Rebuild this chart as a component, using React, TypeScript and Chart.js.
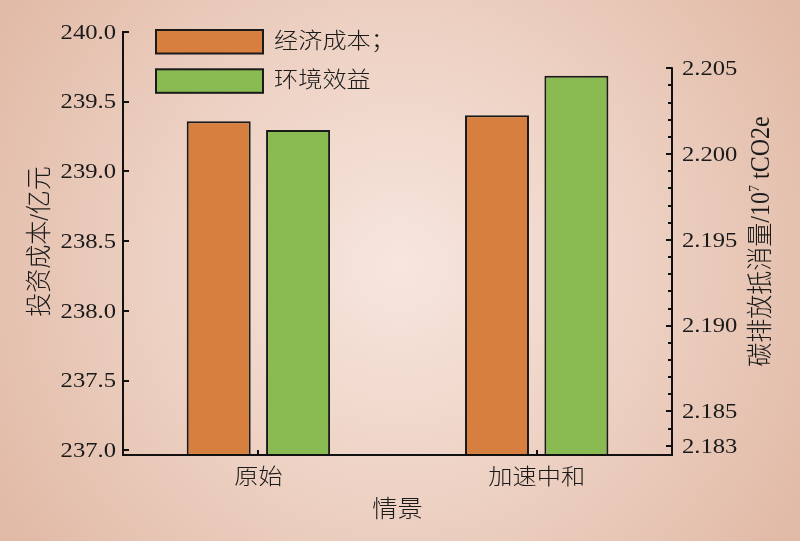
import React, { useEffect, useRef } from 'react';
import { Chart, registerables } from 'chart.js';

Chart.register(...registerables);

// ---- data ----
const categories = ['原始', '加速中和'];
const categoryPositions = [1, 2];
const seriesLabels = ['经济成本；', '环境效益'];
const costValues = [239.36, 239.403];
const benefitValues = [2.2014, 2.20457];
const leftTickValues = [237.0, 237.5, 238.0, 238.5, 239.0, 239.5, 240.0];
const rightLabelValues = [2.183, 2.185, 2.19, 2.195, 2.2, 2.205];
const xTitle = '情景';
const leftTitle = '投资成本/亿元';
const rightTitleParts = ['碳排放抵消量/10', '7', ' tCO2e'];

const seriesColors = ['#d67f3e', '#8aba52'];
const edgeColor = '#1a1a1a';
const SX = 1.12;
const NUM_FONT = '22px "Liberation Serif", "Noto Sans CJK SC", serif';
const TXT_FONT = '300 22px "Liberation Serif", "Noto Sans CJK SC", sans-serif';
const TITLE_FONT = '300 24px "Liberation Serif", "Noto Sans CJK SC", sans-serif';
const SUP_FONT = '14px "Liberation Serif", serif';

function rightMinorTicks(): number[] {
  const out: number[] = [];
  for (let k = 2183; k <= 2205; k++) out.push(k / 1000);
  return out;
}

function drawText(ctx: CanvasRenderingContext2D, text: string, x: number, y: number, align: CanvasTextAlign, font: string, sx = SX) {
  ctx.save();
  ctx.translate(x, y);
  ctx.scale(sx, 1);
  ctx.font = font;
  ctx.fillStyle = '#1a1a1a';
  ctx.textAlign = align;
  ctx.textBaseline = 'middle';
  ctx.fillText(text, 0, 0);
  ctx.restore();
}

function drawRotated(ctx: CanvasRenderingContext2D, parts: { t: string; font: string; dy: number }[], cx: number, cy: number) {
  ctx.save();
  ctx.translate(cx, cy);
  ctx.rotate(-Math.PI / 2);
  ctx.scale(1, 1.1);
  ctx.fillStyle = '#1a1a1a';
  ctx.textBaseline = 'middle';
  ctx.textAlign = 'left';
  let total = 0;
  for (const p of parts) {
    ctx.font = p.font;
    total += ctx.measureText(p.t).width;
  }
  let x = -total / 2;
  for (const p of parts) {
    ctx.font = p.font;
    ctx.fillText(p.t, x, p.dy);
    x += ctx.measureText(p.t).width;
  }
  ctx.restore();
}

const bgPlugin = {
  id: 'bgPlugin',
  beforeDraw(chart: any) {
    const ctx: CanvasRenderingContext2D = chart.ctx;
    const w = chart.width, h = chart.height;
    ctx.save();
    const g = ctx.createRadialGradient(400, 265, 0, 400, 265, 480);
    g.addColorStop(0, '#f7e6de');
    g.addColorStop(0.5, '#edd1c3');
    g.addColorStop(1, '#e1b9a5');
    ctx.fillStyle = g;
    ctx.fillRect(0, 0, w, h);
    ctx.restore();
  },
};

const decorPlugin = {
  id: 'decorPlugin',
  afterDatasetsDraw(chart: any) {
    const ctx: CanvasRenderingContext2D = chart.ctx;
    const area = chart.chartArea;
    const xs = chart.scales.x;
    const yl = chart.scales.y;
    const yr = chart.scales.y2;
    ctx.save();
    ctx.strokeStyle = '#111';
    ctx.lineWidth = 2;
    ctx.lineCap = 'square';
    const yTopR = yr.getPixelForValue(rightLabelValues[rightLabelValues.length - 1]);
    ctx.beginPath();
    ctx.moveTo(area.left, yl.getPixelForValue(leftTickValues[leftTickValues.length - 1]));
    ctx.lineTo(area.left, area.bottom);
    ctx.lineTo(area.right, area.bottom);
    ctx.lineTo(area.right, yTopR);
    ctx.stroke();
    ctx.lineCap = 'butt';
    // left ticks
    ctx.beginPath();
    for (const v of leftTickValues) {
      const p = Math.round(yl.getPixelForValue(v));
      ctx.moveTo(area.left, p);
      ctx.lineTo(area.left + 6, p);
    }
    // right ticks
    for (const v of rightMinorTicks()) {
      const p = Math.round(yr.getPixelForValue(v));
      const major = rightLabelValues.some((m) => Math.abs(m - v) < 1e-7);
      ctx.moveTo(area.right, p);
      ctx.lineTo(area.right - (major ? 6 : 4), p);
    }
    // x ticks
    for (const v of categoryPositions) {
      const p = Math.round(xs.getPixelForValue(v));
      ctx.moveTo(p, area.bottom);
      ctx.lineTo(p, area.bottom - 5);
    }
    ctx.stroke();
    ctx.restore();

    // tick labels
    for (const v of leftTickValues) {
      drawText(ctx, v.toFixed(1), area.left - 7, yl.getPixelForValue(v) + 1, 'right', NUM_FONT);
    }
    for (const v of rightLabelValues) {
      drawText(ctx, v.toFixed(3), area.right + 10, yr.getPixelForValue(v) + 1, 'left', NUM_FONT);
    }
    categories.forEach((c, i) => {
      drawText(ctx, c, xs.getPixelForValue(categoryPositions[i]), area.bottom + 23, 'center', TXT_FONT, 1.1);
    });
    drawText(ctx, xTitle, (area.left + area.right) / 2, area.bottom + 56, 'center', TITLE_FONT, 1.05);

    // axis titles
    const cy = (area.top + area.bottom) / 2 - 2;
    drawRotated(ctx, [{ t: leftTitle, font: TITLE_FONT, dy: 0 }], 41, cy);
    drawRotated(
      ctx,
      [
        { t: rightTitleParts[0], font: TITLE_FONT, dy: 0 },
        { t: rightTitleParts[1], font: SUP_FONT, dy: -6 },
        { t: rightTitleParts[2], font: TITLE_FONT, dy: 0 },
      ],
      762,
      cy
    );

    // legend
    chart.data.datasets.forEach((ds: any, i: number) => {
      const top = 30 + i * 39.3;
      const left = 156;
      ctx.save();
      ctx.fillStyle = ds.backgroundColor;
      ctx.fillRect(left, top, 107, 23.5);
      ctx.strokeStyle = edgeColor;
      ctx.lineWidth = 2;
      ctx.strokeRect(left, top, 107, 23.5);
      ctx.restore();
      drawText(ctx, ds.label, 274, top + 12, 'left', TXT_FONT, 1.1);
    });
  },
};

export default function App() {
  const ref = useRef<HTMLCanvasElement | null>(null);
  useEffect(() => {
    if (!ref.current) return;
    const chart = new Chart(ref.current, {
      type: 'bar',
      data: {
        datasets: [
          {
            label: seriesLabels[0],
            data: categoryPositions.map((x, i) => ({ x, y: costValues[i] })),
            yAxisID: 'y',
            backgroundColor: seriesColors[0],
            borderColor: edgeColor,
            borderWidth: 2,
            categoryPercentage: 0.5706,
            barPercentage: 0.806,
          },
          {
            label: seriesLabels[1],
            data: categoryPositions.map((x, i) => ({ x, y: benefitValues[i] })),
            yAxisID: 'y2',
            backgroundColor: seriesColors[1],
            borderColor: edgeColor,
            borderWidth: 2,
            categoryPercentage: 0.5706,
            barPercentage: 0.806,
          },
        ],
      } as any,
      options: {
        responsive: false,
        animation: false,
        layout: { padding: { top: 32, left: 0, right: 0, bottom: 0 } },
        plugins: { legend: { display: false }, tooltip: { enabled: false } },
        scales: {
          x: {
            type: 'linear',
            offset: false,
            min: 0.5135,
            max: 2.4862,
            grid: { display: false, drawTicks: false, offset: false },
            border: { display: false },
            ticks: { display: false },
            afterBuildTicks: (s: any) => {
              s.ticks = categoryPositions.map((v) => ({ value: v }));
            },
            afterFit: (s: any) => {
              s.height = 86;
            },
          },
          y: {
            type: 'linear',
            position: 'left',
            min: 236.966,
            max: 240.0,
            grid: { display: false, drawTicks: false },
            border: { display: false },
            ticks: { display: false },
            afterFit: (s: any) => {
              s.width = 123;
            },
          },
          y2: {
            type: 'linear',
            position: 'right',
            min: 2.182465,
            max: 2.207115,
            grid: { display: false, drawTicks: false },
            border: { display: false },
            ticks: { display: false },
            afterFit: (s: any) => {
              s.width = 128;
            },
          },
        },
      } as any,
      plugins: [bgPlugin, decorPlugin],
    });
    return () => chart.destroy();
  }, []);
  return (
    <div style={{ position: 'fixed', left: 0, top: 0, width: 800, height: 541 }}>
      <canvas ref={ref} width={800} height={541} style={{ display: 'block', width: 800, height: 541 }} />
    </div>
  );
}
